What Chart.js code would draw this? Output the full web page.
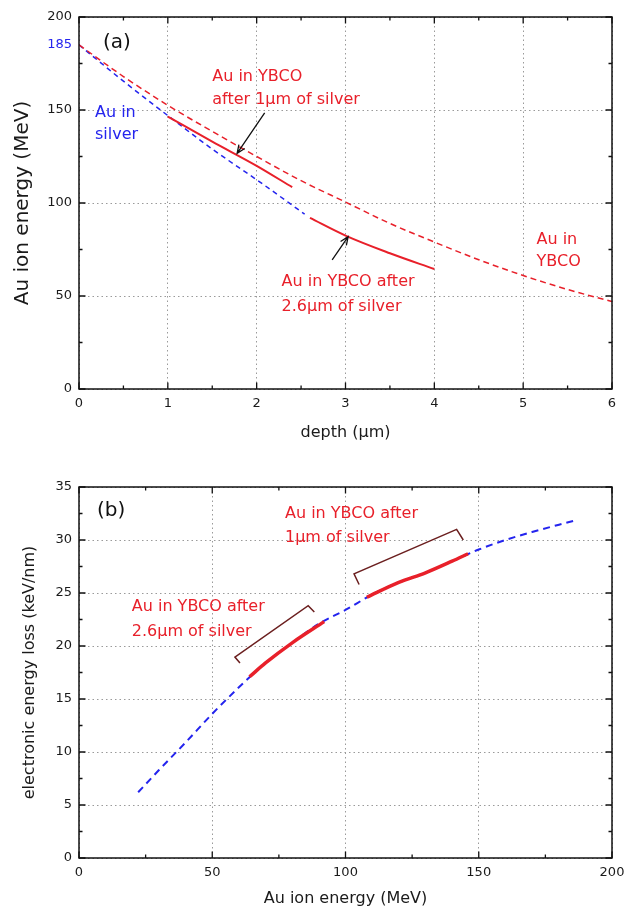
<!DOCTYPE html>
<html>
<head>
<meta charset="utf-8">
<script src="https://cdn.jsdelivr.net/npm/chart.js@4.4.1/dist/chart.umd.min.js"></script>
<style>
body{margin:0;background:#fff;width:624px;height:908px;position:relative;overflow:hidden}
.box{position:absolute;left:0;width:624px}
#boxA{top:0;height:450px}
#boxB{top:450px;height:458px}
</style>
</head>
<body>
<div class="box" id="boxA"><canvas id="chartA"></canvas></div>
<div class="box" id="boxB"><canvas id="chartB"></canvas></div>
<script>
// (a) Au ion energy vs depth
const depthYBCO=[0,0.5,1,1.5,2,2.5,3,3.5,4,4.5,5,5.5,6]
const energyYBCO=[185,168,152.5,138.5,125,112,100.5,89,79,69.5,61,53.5,47]
const depthSilver=[0,0.5,1,1.5,2,2.54]
const energySilver=[185,165.5,147,129,112.5,94]
const depthAfter1=[1,1.5,2,2.4]
const energyAfter1=[146.5,133,120,108.5]
const depthAfter26=[2.6,3,3.5,4]
const energyAfter26=[92,82.5,73,64.5]

// (b) electronic energy loss vs Au ion energy
const ionEnergy=[22.2,30,40,50,60,70,80,90,100,110,120,130,140,150,160,170,185.4]
const lossSilver=[6.2,8.3,10.9,13.6,16.1,18.4,20.3,22.1,23.4,24.85,26.0,26.9,28.0,29.1,30.0,30.75,31.8]
const energyAfter26b=[64,70,80,92]
const lossAfter26b=[17.1,18.4,20.3,22.3]
const energyAfter1b=[108,120,130,140,146]
const lossAfter1b=[24.6,26.0,26.9,28.0,28.7]

const F="'DejaVu Sans', Verdana, sans-serif"
const RED="#e8202a"
const BLUE="#2424ee"
const BROWN="#6b1f1f"

function pts(xs,ys){
  return xs.map((x,i)=>({x:x,y:ys[i]}))
}

function line(xs,ys,color,width,dash){
  return {data:pts(xs,ys),borderColor:color,borderWidth:width,borderDash:dash||[],
    pointRadius:0,showLine:true,fill:false,cubicInterpolationMode:"monotone"}
}

const decor={
  id:"decor",
  afterDraw(chart,args,o){
    const ctx=chart.ctx
    const a=chart.chartArea
    const sx=chart.scales.x
    const sy=chart.scales.y
    const px=v=>sx.getPixelForValue(v)
    const py=v=>sy.getPixelForValue(v)
    ctx.save()
    // frame
    ctx.strokeStyle="#111"
    ctx.lineWidth=1.5
    ctx.strokeRect(a.left,a.top,a.right-a.left,a.bottom-a.top)
    // inner ticks, major + minor
    const xs=sx.ticks.map(t=>t.value)
    const ys=sy.ticks.map(t=>t.value)
    const mids=v=>v.slice(1).map((t,i)=>(t+v[i])/2)
    ctx.lineWidth=1.3
    ctx.beginPath()
    const tickX=(vals,len)=>vals.forEach(v=>{
      const p=px(v)
      ctx.moveTo(p,a.bottom);ctx.lineTo(p,a.bottom-len)
      ctx.moveTo(p,a.top);ctx.lineTo(p,a.top+len)
    })
    const tickY=(vals,len)=>vals.forEach(v=>{
      const p=py(v)
      ctx.moveTo(a.left,p);ctx.lineTo(a.left+len,p)
      ctx.moveTo(a.right,p);ctx.lineTo(a.right-len,p)
    })
    tickX(xs,6.5);tickX(mids(xs),3.5)
    tickY(ys,6.5);tickY(mids(ys),3.5)
    ctx.stroke()
    // extra axis labels
    o.axisLabels.forEach(t=>{
      ctx.font=t.font;ctx.fillStyle=t.color
      ctx.textAlign="right";ctx.textBaseline="middle"
      ctx.fillText(t.text,a.left-7,py(t.y))
    })
    // brackets
    o.brackets.forEach(b=>{
      ctx.strokeStyle=BROWN;ctx.lineWidth=1.5
      ctx.beginPath()
      b.forEach((p,i)=>i?ctx.lineTo(px(p[0]),py(p[1])):ctx.moveTo(px(p[0]),py(p[1])))
      ctx.stroke()
    })
    // arrows
    o.arrows.forEach(r=>{
      const x0=px(r.from[0]),y0=py(r.from[1]),x1=px(r.to[0]),y1=py(r.to[1])
      const ang=Math.atan2(y1-y0,x1-x0)
      ctx.strokeStyle="#111";ctx.lineWidth=1.3
      ctx.beginPath()
      ctx.moveTo(x0,y0);ctx.lineTo(x1,y1)
      ctx.moveTo(x1-9*Math.cos(ang-0.4),y1-9*Math.sin(ang-0.4))
      ctx.lineTo(x1,y1)
      ctx.lineTo(x1-9*Math.cos(ang+0.4),y1-9*Math.sin(ang+0.4))
      ctx.stroke()
    })
    // texts
    o.texts.forEach(t=>{
      ctx.font=t.font;ctx.fillStyle=t.color
      ctx.textAlign="left";ctx.textBaseline="middle"
      ctx.fillText(t.text,px(t.x),py(t.y))
    })
    ctx.restore()
  }
}

function axes(xOpt,yOpt){
  const tickFont={size:13,family:F}
  return {
    x:{type:"linear",min:xOpt.min,max:xOpt.max,
      ticks:{stepSize:xOpt.step,font:tickFont,color:"#1a1a1a",padding:7},
      grid:{color:"#9a9a9a",lineWidth:1,drawTicks:false},
      border:{display:false,dash:[1.5,3]},
      title:{display:true,text:xOpt.title,font:{size:16,family:F},color:"#1a1a1a",padding:{top:0,bottom:xOpt.titlePad}},
      afterFit:s=>{s.height=xOpt.height;s.paddingRight=0;s.paddingLeft=0}},
    y:{type:"linear",min:yOpt.min,max:yOpt.max,
      ticks:{stepSize:yOpt.step,font:tickFont,color:"#1a1a1a",padding:7},
      grid:{color:"#9a9a9a",lineWidth:1,drawTicks:false},
      border:{display:false,dash:[1.5,3]},
      title:{display:true,text:yOpt.title,font:{size:yOpt.titleSize,family:F},color:"#1a1a1a",padding:{top:yOpt.titlePad,bottom:0}},
      afterFit:s=>{s.width=79}}
  }
}

const annoFont="16px "+F

new Chart(document.getElementById("chartA"),{
  type:"scatter",
  data:{datasets:[
    line(depthAfter1,energyAfter1,RED,2),
    line(depthAfter26,energyAfter26,RED,2),
    line(depthYBCO,energyYBCO,RED,1.5,[6,4]),
    line(depthSilver,energySilver,BLUE,1.5,[5,4])
  ]},
  options:{
    responsive:true,maintainAspectRatio:false,animation:false,
    layout:{padding:{top:17,right:12,left:0,bottom:0}},
    plugins:{legend:{display:false},tooltip:{enabled:false},
      decor:{
        axisLabels:[{text:"185",y:185,color:BLUE,font:"13px "+F}],
        brackets:[],
        arrows:[{from:[2.09,148.4],to:[1.78,126.7]},{from:[2.85,69.4],to:[3.03,81.9]}],
        texts:[
          {text:"(a)",x:0.27,y:186,color:"#111",font:"20px "+F},
          {text:"Au in YBCO",x:1.5,y:167.7,color:RED,font:annoFont},
          {text:"after 1\u03bcm of silver",x:1.5,y:155.2,color:RED,font:annoFont},
          {text:"Au in",x:0.18,y:148.4,color:BLUE,font:annoFont},
          {text:"silver",x:0.18,y:136.6,color:BLUE,font:annoFont},
          {text:"Au in YBCO after",x:2.28,y:57.7,color:RED,font:annoFont},
          {text:"2.6\u03bcm of silver",x:2.28,y:44.2,color:RED,font:annoFont},
          {text:"Au in",x:5.15,y:80.1,color:RED,font:annoFont},
          {text:"YBCO",x:5.15,y:68.4,color:RED,font:annoFont}
        ]}
    },
    scales:axes({min:0,max:6,step:1,title:"depth (\u03bcm)",height:61,titlePad:8},
                {min:0,max:200,step:50,title:"Au ion energy (MeV)",titleSize:20,titlePad:11})
  },
  plugins:[decor]
})

new Chart(document.getElementById("chartB"),{
  type:"scatter",
  data:{datasets:[
    line(energyAfter26b,lossAfter26b,RED,3.5),
    line(energyAfter1b,lossAfter1b,RED,3.5),
    line(ionEnergy,lossSilver,BLUE,2,[7,5])
  ]},
  options:{
    responsive:true,maintainAspectRatio:false,animation:false,
    layout:{padding:{top:37,right:12,left:0,bottom:0}},
    plugins:{legend:{display:false},tooltip:{enabled:false},
      decor:{
        axisLabels:[],
        brackets:[
          [[60.4,18.4],[58.5,18.96],[86,23.8],[88.3,23.2]],
          [[105.1,25.8],[103.2,26.8],[141.7,31.0],[144.2,30.0]]
        ],
        arrows:[],
        texts:[
          {text:"(b)",x:6.75,y:32.8,color:"#111",font:"20px "+F},
          {text:"Au in YBCO after",x:77.3,y:32.5,color:RED,font:annoFont},
          {text:"1\u03bcm of silver",x:77.3,y:30.2,color:RED,font:annoFont},
          {text:"Au in YBCO after",x:19.8,y:23.7,color:RED,font:annoFont},
          {text:"2.6\u03bcm of silver",x:19.8,y:21.3,color:RED,font:annoFont}
        ]}
    },
    scales:axes({min:0,max:200,step:50,title:"Au ion energy (MeV)",height:50,titlePad:0},
                {min:0,max:35,step:5,title:"electronic energy loss (keV/nm)",titleSize:16,titlePad:20})
  },
  plugins:[decor]
})
</script>
</body>
</html>
